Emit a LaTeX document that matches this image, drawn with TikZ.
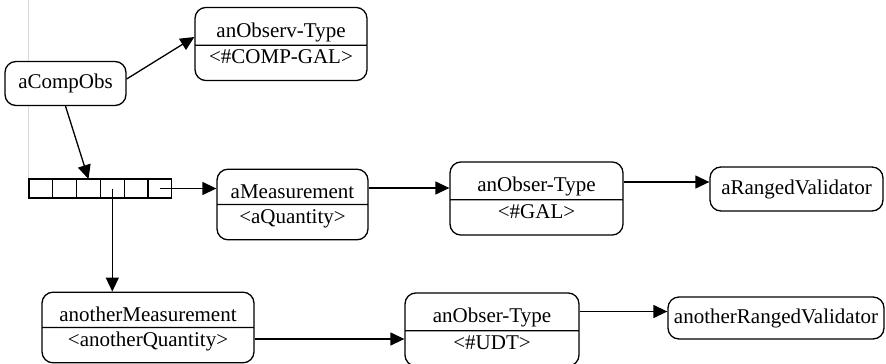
\documentclass[tikz,border=0pt]{standalone}
\usepackage{fontspec}
\setmainfont{Liberation Serif}
\usetikzlibrary{positioning,shapes.multipart,arrows.meta}
\newcommand{\upstrut}{\rule[-2pt]{0pt}{28pt}}
\newcommand{\lowstrut}{\rule[-13pt]{0pt}{28pt}}
\begin{document}
\begin{tikzpicture}[x=1pt, y=-1pt, line width=1.3pt,
  font=\fontsize{21}{25}\selectfont,
  obj/.style = {draw, fill=white, rounded corners=11pt, minimum height=44pt, inner sep=4pt},
  objtwo/.style = {draw, fill=white, rounded corners=11pt, rectangle split, rectangle split parts=2, inner xsep=4pt, inner ysep=3pt},
  cell/.style = {draw, fill=white, minimum width=23.8pt, minimum height=19pt, inner sep=0pt, outer sep=0pt},
  arr/.style = {line width=1.3pt, -{Triangle[length=14pt,width=13pt]}}]
  \useasboundingbox (0,0) rectangle (886,364);
  \coordinate (top) at (28,0);
  \coordinate (bot) at (28,179);
  \draw[black!15, line width=0.8pt] (top) -- (bot);
  \node[obj, minimum width=121pt] (cobs) at (65.5,83.5) {aCompObs};
  \node[objtwo, minimum width=172pt] (otype1) at (281,44) {\upstrut anObserv-Type\nodepart{two}\lowstrut <\#COMP-GAL>};
  \node[cell] (cell1) at (40.9,188.5) {};
  \node[cell, right=0pt of cell1] (cell2) {};
  \node[cell, right=0pt of cell2] (cell3) {};
  \node[cell, right=0pt of cell3] (cell4) {};
  \node[cell, right=0pt of cell4] (cell5) {};
  \node[cell, right=0pt of cell5] (cell6) {};
  \node[objtwo, minimum width=151pt] (meas) at (292.5,204.5) {\upstrut aMeasurement\nodepart{two}\lowstrut <aQuantity>};
  \node[objtwo, minimum width=173pt] (otype2) at (536.5,198.5) {\upstrut anObser-Type\nodepart{two}\lowstrut <\#GAL>};
  \node[obj, minimum width=173pt] (rv) at (796.5,189) {aRangedValidator};
  \node[objtwo, minimum width=212pt] (ameas) at (148,327.5) {\upstrut anotherMeasurement\nodepart{two}\lowstrut <anotherQuantity>};
  \node[objtwo, minimum width=174pt] (otype3) at (492,329.5) {\upstrut anObser-Type\nodepart{two}\lowstrut <\#UDT>};
  \node[obj, minimum width=216pt, minimum height=42pt] (arv) at (776,318) {anotherRangedValidator};
  \draw[arr] ([yshift=4.5pt]cobs.east) -- ([yshift=7pt]otype1.west);
  \draw[arr] (cobs.south) -- (cell3.north);
  \draw[arr] (cell6.center) -- (cell6.center -| meas.west);
  \draw[arr] (cell4.center) -- (cell4.center |- ameas.north);
  \draw[arr] ([yshift=16.5pt]meas.east) -- ([yshift=16.5pt]meas.east -| otype2.west);
  \draw[arr] ([yshift=16.5pt]otype2.east) -- ([yshift=16.5pt]otype2.east -| rv.west);
  \draw[arr] ([yshift=-11.5pt]ameas.east) -- ([yshift=-11.5pt]ameas.east -| otype3.west);
  \draw[arr] ([yshift=18pt]otype3.east) -- ([yshift=18pt]otype3.east -| arv.west);
\end{tikzpicture}
\end{document}
